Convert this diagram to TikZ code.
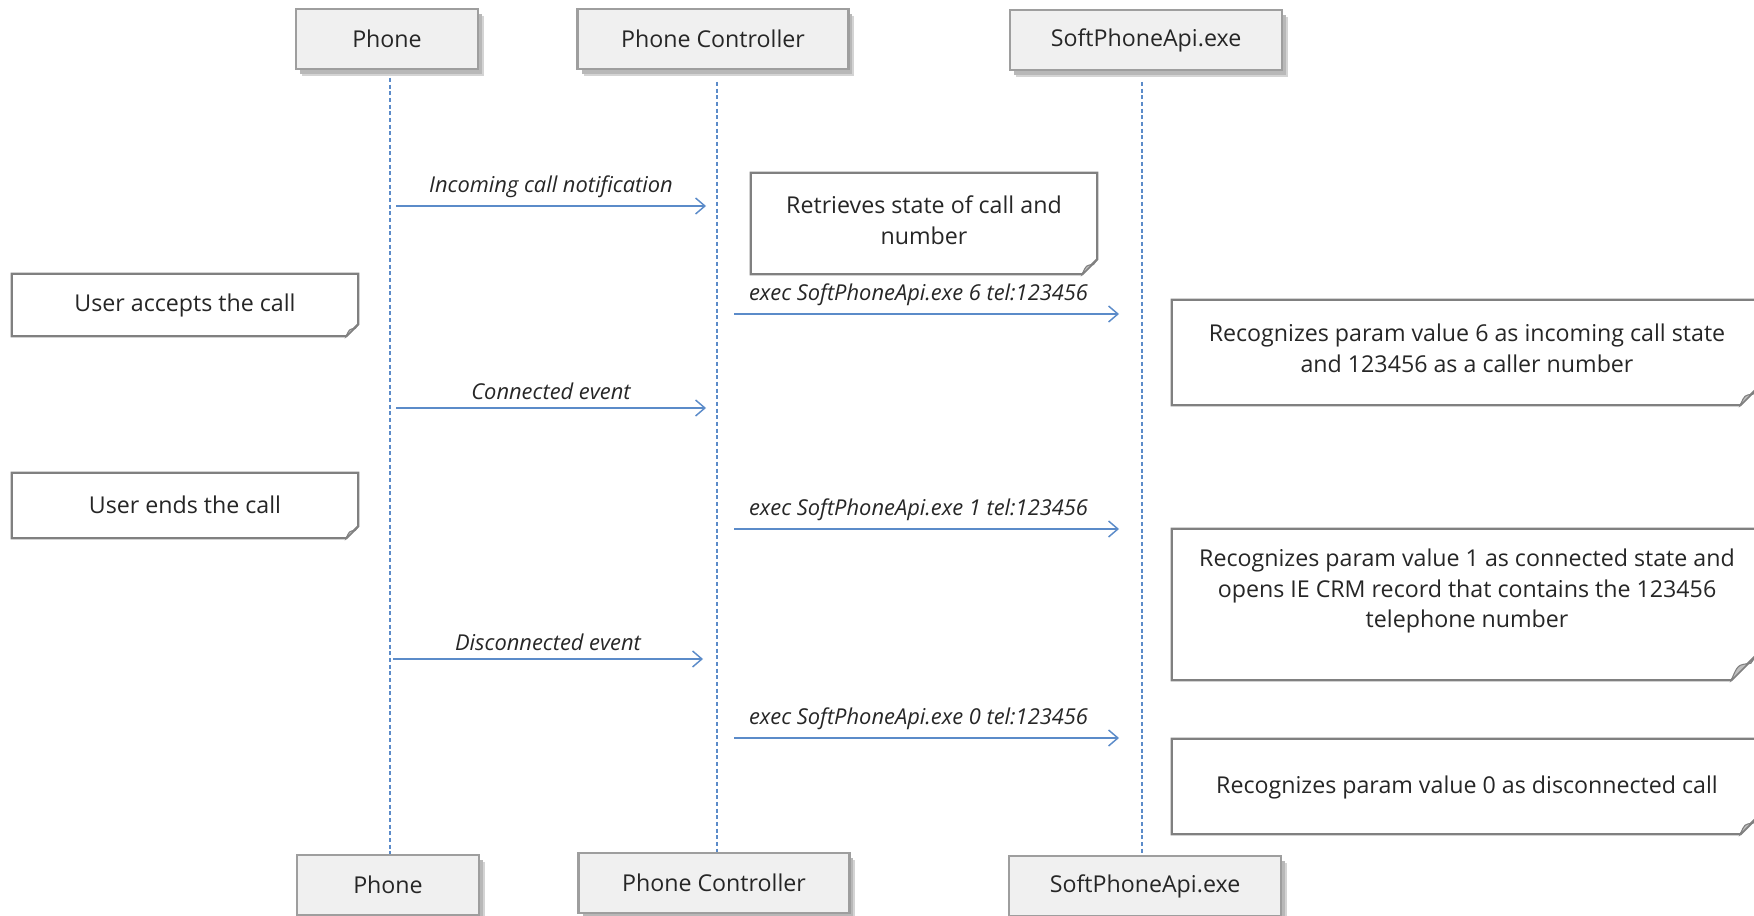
\documentclass[tikz,border=0pt]{standalone}
\usepackage{fontspec}
\setmainfont{Open Sans}
\usetikzlibrary{arrows.meta,calc}
\definecolor{lineblue}{HTML}{5B8BC9}
\definecolor{boxfill}{HTML}{F0F0F0}
\definecolor{boxline}{HTML}{9E9E9E}
\definecolor{shadowc}{HTML}{B8B8B8}
\definecolor{notec}{HTML}{808080}
\definecolor{txt}{HTML}{262626}
\newcommand\notefold[2]{% name, fold size (px)
  \draw[noteline] (#1.north west) -- (#1.north east) -- ($(#1.south east)+(0,-#2)$)
     -- ($(#1.south east)+(-#2,0)$) -- (#1.south west) -- cycle;
  \filldraw[notec, line width=0.8pt, fill=notec!50] ($(#1.south east)+(0,-#2)$) -- ($(#1.south east)+(-#2,0)$)
     .. controls ($(#1.south east)+({-0.75*#2},{-0.6*#2})$) .. ($(#1.south east)+({-0.25*#2},{-0.65*#2})$) -- cycle;
}
\begin{document}
\begin{tikzpicture}[x=0.75pt,y=-0.75pt,
  font=\fontsize{17.4}{23}\selectfont, text=txt,
  actor/.style={draw=boxline, fill=boxfill, line width=1.9pt, minimum height=45pt, inner sep=0pt},
  shadowbox/.style={fill=shadowc, draw=none, minimum height=45pt, inner sep=0pt},
  lifeline/.style={draw=lineblue, line width=0.8pt, dash pattern=on 3pt off 2pt},
  msg/.style={draw=lineblue, line width=1.1pt, -{Straight Barb[length=7pt,width=12pt,line width=1.1pt]}},
  msglabel/.style={font=\fontsize{16.4}{18}\selectfont\itshape, above, yshift=4pt, inner sep=2pt},
  notebox/.style={draw=none, inner sep=0pt},
  notetext/.style={align=center, inner sep=0pt},
  noteline/.style={draw=notec, line width=1.8pt, fill=white}
]
\useasboundingbox (0,0) rectangle (1754,916);
\clip (0,0) rectangle (1754,916);

% lifelines
\coordinate (lp1) at (390,78);  \coordinate (lp2) at (390,856);
\coordinate (lc1) at (717,82);  \coordinate (lc2) at (717,856);
\coordinate (ls1) at (1142,82); \coordinate (ls2) at (1142,857);
\draw[lifeline] (lp1) -- (lp2);
\draw[lifeline] (lc1) -- (lc2);
\draw[lifeline] (ls1) -- (ls2);

% header actors with shadows
\node[shadowbox, minimum width=136.5pt, fill=shadowc!60] at (393,46) {};
\node[shadowbox, minimum width=136.5pt] at (391,44) {};
\node[actor, minimum width=136.5pt] (hPhone) at (387,39) {Phone};
\node[shadowbox, minimum width=203pt, fill=shadowc!60] at (719,46) {};
\node[shadowbox, minimum width=203pt] at (717,44) {};
\node[actor, minimum width=203pt] (hCtrl) at (713,39) {Phone Controller};
\node[shadowbox, minimum width=204pt, fill=shadowc!60] at (1152,47) {};
\node[shadowbox, minimum width=204pt] at (1150,45) {};
\node[actor, minimum width=204pt] (hSoft) at (1146,40) {SoftPhoneApi.exe};

% footer actors
\node[shadowbox, minimum width=136.5pt, fill=shadowc!60] at (394,892) {};
\node[shadowbox, minimum width=136.5pt] at (392,890) {};
\node[actor, minimum width=136.5pt] (fPhone) at (388,885) {Phone};
\node[shadowbox, minimum width=203pt, fill=shadowc!60] at (720,890) {};
\node[shadowbox, minimum width=203pt] at (718,888) {};
\node[actor, minimum width=203pt] (fCtrl) at (714,883) {Phone Controller};
\node[shadowbox, minimum width=204pt, fill=shadowc!60] at (1151,893) {};
\node[shadowbox, minimum width=204pt] at (1149,891) {};
\node[actor, minimum width=204pt] (fSoft) at (1145,886) {SoftPhoneApi.exe};

% notes
\node[notebox, minimum width=259.5pt, minimum height=75.75pt] (nRet) at (924,223.5) {};
\notefold{nRet}{15}
\node[notetext] (tRet) at (924,220.5) {Retrieves state of call and\\number};

\node[notebox, minimum width=259.5pt, minimum height=46.5pt] (nAcc) at (185,305) {};
\notefold{nAcc}{12}
\node[notetext] (tAcc) at (185,305) {User accepts the call};

\node[notebox, minimum width=259.5pt, minimum height=48.75pt] (nEnd) at (185,505.5) {};
\notefold{nEnd}{12}
\node[notetext] (tEnd) at (185,504.5) {User ends the call};

\node[notebox, minimum width=438.75pt, minimum height=78.75pt] (n6) at (1464.5,352.5) {};
\notefold{n6}{17}
\node[notetext] (t6) at (1467,348) {Recognizes param value 6 as incoming call state\\and 123456 as a caller number};

\node[notebox, minimum width=438.75pt, minimum height=113.25pt] (n1) at (1464.5,604.5) {};
\notefold{n1}{26}
\node[notetext] (t1) at (1467,591) {Recognizes param value 1 as connected state and\\opens IE CRM record that contains the 123456\\telephone number};

\node[notebox, minimum width=438.75pt, minimum height=71.25pt] (n0) at (1464.5,786.5) {};
\notefold{n0}{17}
\node[notetext] (t0) at (1467,787) {Recognizes param value 0 as disconnected call};

% messages
\coordinate (m1s) at (396,206);  \coordinate (m1e) at (706,206);
\coordinate (m2s) at (734,314);  \coordinate (m2e) at (1119,314);
\coordinate (m3s) at (396,408);  \coordinate (m3e) at (706,408);
\coordinate (m4s) at (734,529);  \coordinate (m4e) at (1119,529);
\coordinate (m5s) at (393,659);  \coordinate (m5e) at (703,659);
\coordinate (m6s) at (734,738);  \coordinate (m6e) at (1119,738);

\draw[msg] (m1s) -- (m1e) node[msglabel, midway] (l1) {Incoming call notification};
\draw[msg] (m2s) -- (m2e) node[msglabel, midway, xshift=-6pt] (l2) {exec SoftPhoneApi.exe 6 tel:123456};
\draw[msg] (m3s) -- (m3e) node[msglabel, midway] (l3) {Connected event};
\draw[msg] (m4s) -- (m4e) node[msglabel, midway, xshift=-6pt] (l4) {exec SoftPhoneApi.exe 1 tel:123456};
\draw[msg] (m5s) -- (m5e) node[msglabel, midway] (l5) {Disconnected event};
\draw[msg] (m6s) -- (m6e) node[msglabel, midway, xshift=-6pt] (l6) {exec SoftPhoneApi.exe 0 tel:123456};
\end{tikzpicture}
\end{document}
